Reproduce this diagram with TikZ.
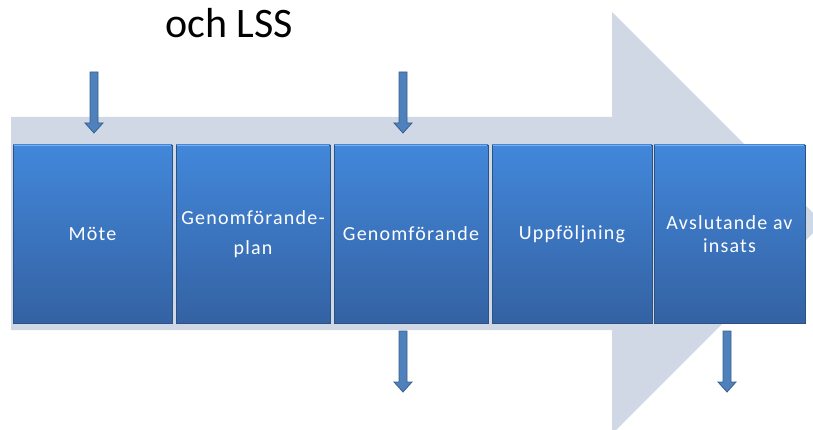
\documentclass[tikz,border=0pt]{standalone}
\usepackage{fontspec}
\setmainfont{Carlito}
\newfontfamily\boxfont[LetterSpace=6]{Carlito}
\definecolor{bgarrow}{HTML}{D0D8E6}
\definecolor{boxtop}{HTML}{4287DA}
\definecolor{boxbot}{HTML}{3462A3}
\definecolor{boxline}{HTML}{2C5282}
\definecolor{boxhi}{HTML}{7AAEE8}
\definecolor{smallarr}{HTML}{4F81BD}
\definecolor{smallarrline}{HTML}{38608F}
\begin{document}
\begin{tikzpicture}[x=1pt,y=-1pt,
  stepbox/.style={rectangle, top color=boxtop, bottom color=boxbot, draw=boxline,
    line width=0.6pt, minimum height=178pt, inner sep=2pt, text=white, align=center,
    font=\boxfont\fontsize{20}{30}\selectfont},
  dnarrow/.pic={\filldraw[fill=smallarr, draw=smallarrline, line width=0.8pt]
    (-4,0) -- (4,0) -- (4,51) -- (9,51) -- (0,61) -- (-9,51) -- (-4,51) -- cycle;},
  hiline/.style={boxhi, line width=1.2pt}
]
\useasboundingbox (0,0) rectangle (813,430);
\begin{scope}
  \clip (0,0) rectangle (813,430);
  \fill[bgarrow] (11,117) -- (612,117) -- (612,12) -- (823,223) -- (612,434)
    -- (612,330) -- (11,330) -- cycle;
\end{scope}
\node[font=\fontsize{42}{48}\selectfont, anchor=base] (title) at (229,38) {och LSS};
% boxes
\node[stepbox, minimum width=159pt] (b1) at (92.5,234) {Möte};
\node[stepbox, minimum width=154pt] (b2) at (253,234) {Genomförande-\\[0pt]plan};
\node[stepbox, minimum width=154pt] (b3) at (411,234) {Genomförande};
\node[stepbox, minimum width=160pt] (b4) at (572,234) {Uppföljning};
\node[stepbox, minimum width=151pt] (b5) at (729.5,234) {Avslutande av\\[-7pt]insats};
\foreach \b in {b1,b2,b3,b4,b5}
  \draw[hiline] ([xshift=1pt,yshift=-1.2pt]\b.north west) -- ([xshift=-1pt,yshift=-1.2pt]\b.north east);
% small arrows
\coordinate (a1) at (94,72);
\coordinate (a2) at (403,72);
\coordinate (a3) at (403,331);
\coordinate (a4) at (727,331);
\pic at (a1) {dnarrow};
\pic at (a2) {dnarrow};
\pic at (a3) {dnarrow};
\pic at (a4) {dnarrow};
\end{tikzpicture}
\end{document}
